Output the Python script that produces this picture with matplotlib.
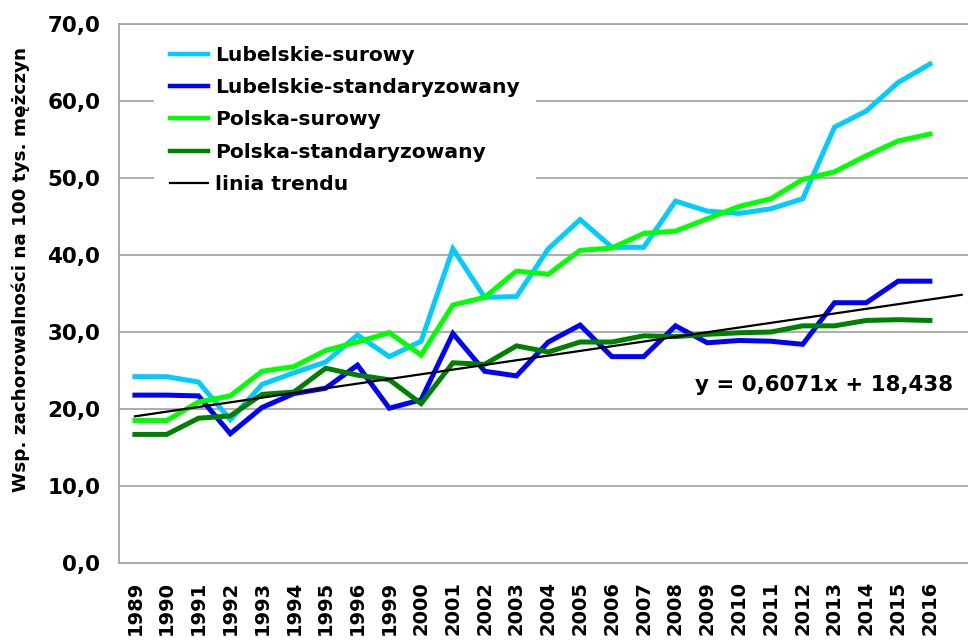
import matplotlib
matplotlib.use("Agg")
import matplotlib.pyplot as plt
import numpy as np
from matplotlib.ticker import FuncFormatter

# Data
years = ["1989", "1990", "1991", "1992", "1993", "1994", "1995", "1996", "1999", "2000",
         "2001", "2002", "2003", "2004", "2005", "2006", "2007", "2008", "2009", "2010",
         "2011", "2012", "2013", "2014", "2015", "2016"]

lub_surowy = [24.2, 24.2, 23.5, 18.6, 23.2, 24.7, 26.1, 29.6, 26.8, 28.8,
              40.8, 34.5, 34.6, 40.8, 44.6, 41.0, 41.0, 47.0, 45.7, 45.4,
              46.0, 47.3, 56.6, 58.7, 62.4, 64.8]
lub_standard = [21.8, 21.8, 21.7, 16.8, 20.2, 22.0, 22.7, 25.7, 20.1, 21.2,
                29.8, 24.9, 24.3, 28.7, 30.9, 26.8, 26.8, 30.8, 28.6, 28.9,
                28.8, 28.4, 33.8, 33.8, 36.6, 36.6]
pol_surowy = [18.5, 18.5, 20.9, 21.7, 24.9, 25.5, 27.6, 28.7, 29.9, 27.0,
              33.5, 34.5, 37.9, 37.5, 40.6, 40.9, 42.8, 43.1, 44.7, 46.3,
              47.3, 49.8, 50.8, 52.9, 54.8, 55.7]
pol_standard = [16.7, 16.7, 18.8, 19.1, 21.9, 22.2, 25.3, 24.4, 23.8, 20.7,
                26.0, 25.8, 28.2, 27.4, 28.7, 28.7, 29.5, 29.4, 29.7, 29.9,
                30.0, 30.8, 30.8, 31.5, 31.6, 31.5]

# trend line (Excel linear trendline, one period forecast)
trend_slope = 0.6071
trend_intercept = 18.438
trend_forecast = 1

series_names = ["Lubelskie-surowy", "Lubelskie-standaryzowany", "Polska-surowy",
                "Polska-standaryzowany"]
series_colors = ["#00CCFF", "#0000FF", "#00FF00", "#008000"]

x = np.arange(1, len(years) + 1)
x_trend = np.array([1, len(years) + trend_forecast])
y_trend = trend_slope * x_trend + trend_intercept

fig = plt.figure(figsize=(9.68, 6.42), dpi=100)
ax = fig.add_axes([119 / 968, 79 / 642, 858.6 / 968, 539 / 642])

for vals, name, col in zip([lub_surowy, lub_standard, pol_surowy, pol_standard],
                           series_names, series_colors):
    ax.plot(x, vals, color=col, lw=3.6, label=name, solid_joinstyle="miter", zorder=3)
ax.plot(x_trend, y_trend, color="black", lw=1.6, label="linia trendu", zorder=4)

ax.set_xlim(0.5, 27.5)
ax.set_ylim(0, 70)
ax.set_yticks(np.arange(0, 71, 10))
ax.yaxis.set_major_formatter(FuncFormatter(lambda v, p: f"{v:.1f}".replace(".", ",")))
ax.set_xticks(x)
ax.set_xticklabels(years, rotation=90)
for lab in ax.get_xticklabels():
    lab.set_fontweight("bold")
    lab.set_fontsize(14)
for lab in ax.get_yticklabels():
    lab.set_fontweight("bold")
    lab.set_fontsize(15.5)
ax.tick_params(axis="both", length=0)
ax.tick_params(axis="y", pad=13.5)
ax.tick_params(axis="x", pad=13)

ax.grid(axis="y", color="#a6a6a6", lw=1.3)
ax.set_axisbelow(True)
for side in ["left", "top", "bottom", "right"]:
    ax.spines[side].set_color("#a6a6a6")
    ax.spines[side].set_linewidth(1.3)

leg = ax.legend(loc="upper left", bbox_to_anchor=(0.041, 0.99), frameon=True,
                prop={"weight": "bold", "size": 14.6}, handlelength=1.85,
                handletextpad=0.33, labelspacing=0.66, borderpad=0.8,
                borderaxespad=0)
leg.get_frame().set_facecolor("white")
leg.get_frame().set_edgecolor("none")
leg.get_frame().set_alpha(1)
for h in leg.get_lines()[:4]:
    h.set_linewidth(3.2)

fig.text(21 / 968, 1 - 270 / 642, "Wsp. zachorowalności na 100 tys. mężczyn",
         rotation=90, ha="center", va="center", fontsize=13.2, fontweight="bold")
fig.text(824 / 968, 1 - 385 / 642, "y = 0,6071x + 18,438",
         ha="center", va="center", fontsize=15.4, fontweight="bold")

fig.savefig("out.png", dpi=100)
